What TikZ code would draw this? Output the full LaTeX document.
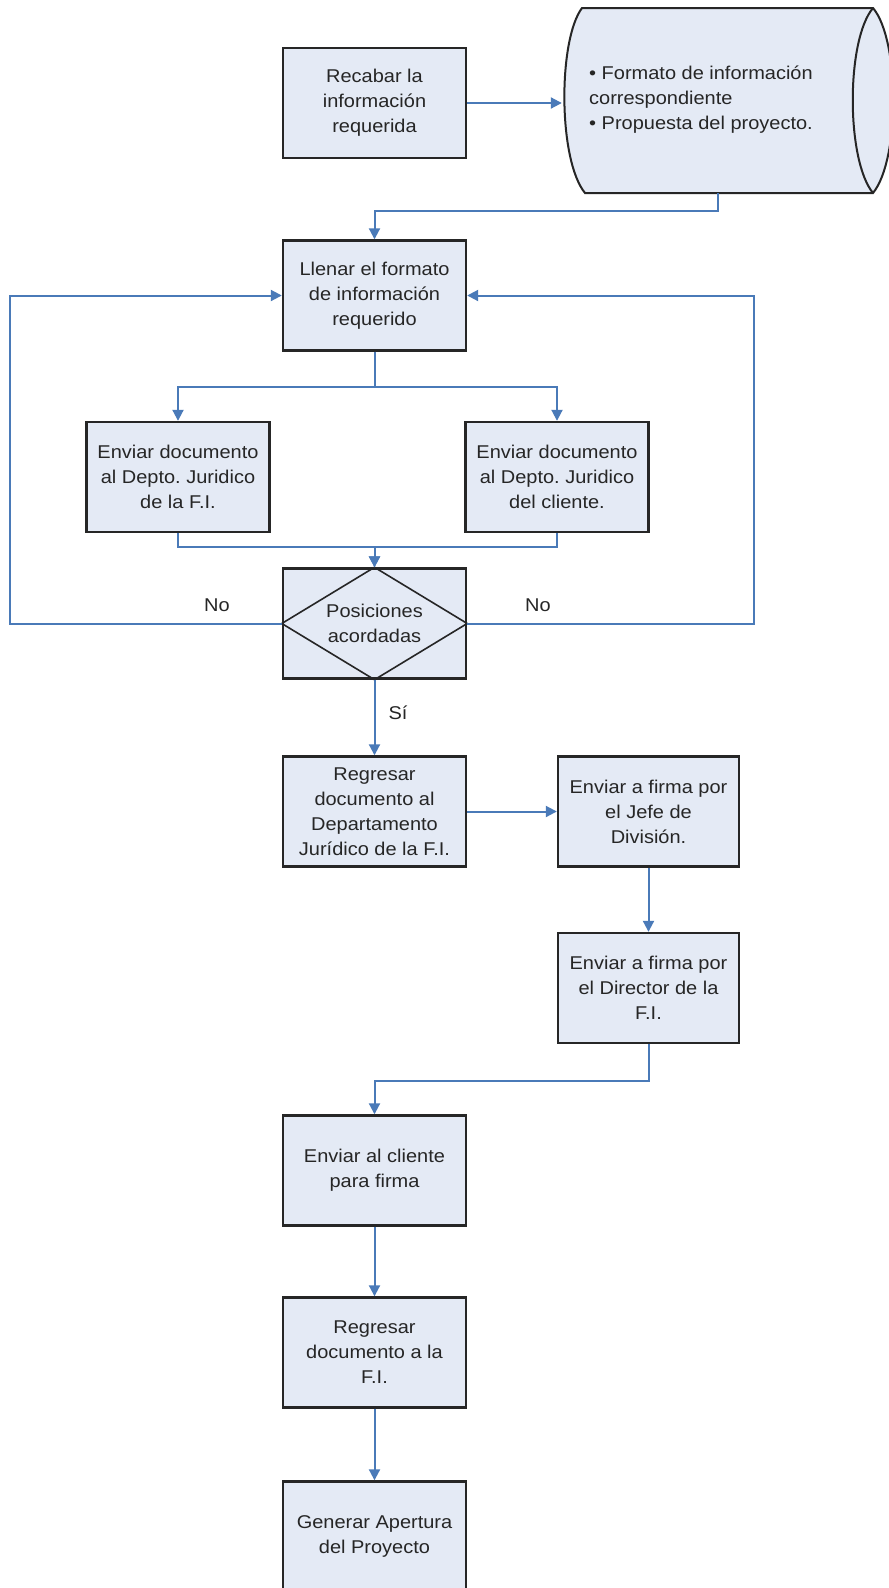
\documentclass[tikz,border=0pt]{standalone}
\usepackage{fontspec}
\setmainfont[FakeStretch=1.08]{Liberation Sans}
\usetikzlibrary{arrows.meta}
\definecolor{boxfill}{HTML}{E4EAF5}
\definecolor{flowblue}{HTML}{4A7AB8}
\definecolor{ink}{HTML}{262626}
\frenchspacing
\begin{document}
\begin{tikzpicture}[x=1pt,y=-1pt,>={Triangle[length=11pt,width=11pt]},
    font=\fontsize{18.5}{25}\selectfont,
    proc/.style={draw=ink,line width=2.4pt,fill=boxfill,minimum width=183pt,minimum height=110pt,align=center,text=ink,inner sep=2pt},
    flow/.style={->,draw=flowblue,line width=2pt},
    lbl/.style={text=ink,inner sep=1pt}]
    \useasboundingbox[fill=white] (0,0) rectangle (889,1588);
    % storage shape
    \draw[ink,line width=2pt,fill=boxfill] (582,8) .. controls (558,40) and (558,160) .. (585,193) -- (873,193) .. controls (900,160) and (900,40) .. (873,8) -- cycle;
    \draw[ink,line width=2pt] (873,8) .. controls (846,40) and (846,160) .. (873,193);
    \node[minimum width=311pt,minimum height=185pt,inner sep=0pt] (doc) at (717.5,100.5) {};
    \node[lbl,align=left,anchor=west] (doctext) at (588,100) {\textbullet\ Formato de información\\correspondiente\\\textbullet\ Propuesta del proyecto.};
    % boxes
    \node[proc] (recabar) at (374.5,103) {Recabar la\\información\\requerida};
    \node[proc] (llenar) at (374.5,295.5) {Llenar el formato\\de información\\requerido};
    \node[proc] (envL) at (178,477) {Enviar documento\\al Depto. Juridico\\de la F.I.};
    \node[proc] (envR) at (557,477) {Enviar documento\\al Depto. Juridico\\del cliente.};
    \node[proc] (dec) at (374.5,623.5) {Posiciones\\acordadas};
    \draw[ink,line width=1.6pt] (dec.north) -- (dec.east) -- (dec.south) -- (dec.west) -- cycle;
    \node[proc] (regresar) at (374.5,811.5) {Regresar\\documento al\\Departamento\\Jurídico de la F.I.};
    \node[proc,minimum width=181pt] (jefe) at (648.5,811.5) {Enviar a firma por\\el Jefe de\\División.};
    \node[proc,minimum width=181pt] (director) at (648.5,988) {Enviar a firma por\\el Director de la\\F.I.};
    \node[proc] (cliente) at (374.5,1170.5) {Enviar al cliente\\para firma};
    \node[proc] (regresarFI) at (374.5,1352.5) {Regresar\\documento a la\\F.I.};
    \node[proc] (generar) at (374.5,1536.5) {Generar Apertura\\del Proyecto};
    % labels
    \node[lbl] (noL) at (217,605) {No};
    \node[lbl] (noR) at (538,605) {No};
    \node[lbl] (si) at (398,713) {Sí};
    \coordinate (loopL) at (10,623.5);
    \coordinate (loopR) at (754,623.5);
    % connectors
    \draw[flow] (recabar.east) -- (recabar.east -| doc.west);
    \draw[flow] (doc.south) -- ++(0,18) -| (llenar.north);
    \draw[flow] (llenar.south) -- ++(0,35) -| (envL.north);
    \draw[flow] (llenar.south) -- ++(0,35) -| (envR.north);
    \draw[flow] (envL.south) -- ++(0,14) -| (dec.north);
    \draw[flow] (envR.south) -- ++(0,14) -| (dec.north);
    \draw[flow] (dec.west) -- (dec.west -| loopL) |- (llenar.west);
    \draw[flow] (dec.east) -- (dec.east -| loopR) |- (llenar.east);
    \draw[flow] (dec.south) -- (regresar.north);
    \draw[flow] (regresar.east) -- (jefe.west);
    \draw[flow] (jefe.south) -- (director.north);
    \draw[flow] (director.south) -- ++(0,37) -| (cliente.north);
    \draw[flow] (cliente.south) -- (regresarFI.north);
    \draw[flow] (regresarFI.south) -- (generar.north);
\end{tikzpicture}
\end{document}
